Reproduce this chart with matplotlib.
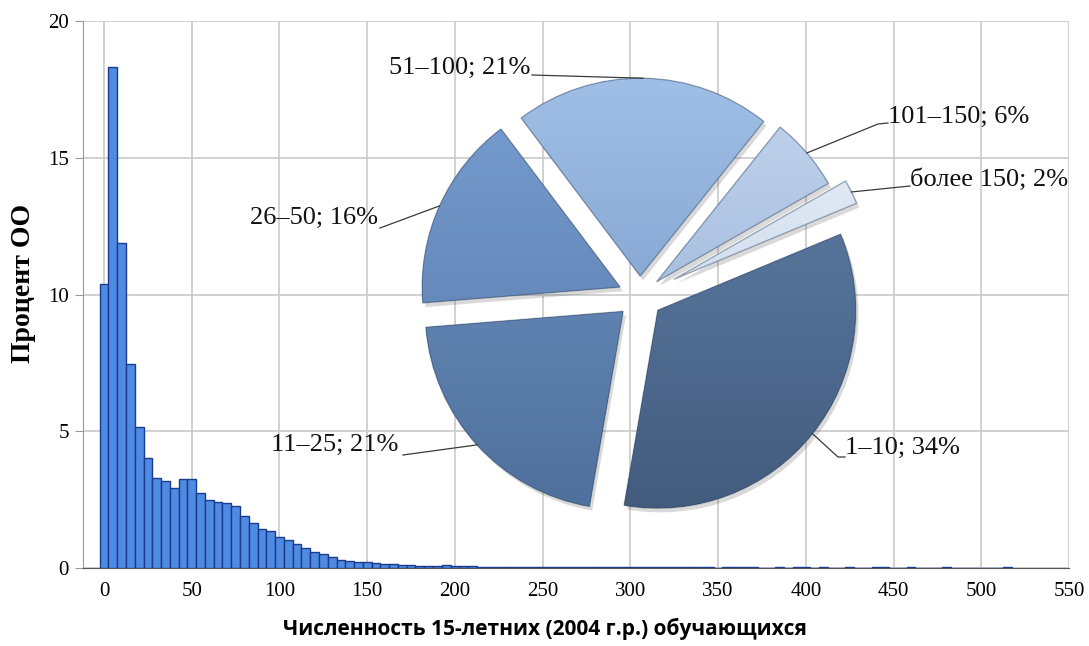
import numpy as np
import matplotlib
matplotlib.use('Agg')
import matplotlib.pyplot as plt
import matplotlib.patheffects as pe
from matplotlib.colors import LinearSegmentedColormap

# Гистограмма: доля ОО (%) по численности 15-летних, шаг 5
bin_step = 5
hist_pct = [
    10.4, 18.3, 11.9, 7.45, 5.16, 4.03, 3.30, 3.18, 2.93, 3.27,   # 0-45
    3.26, 2.73, 2.48, 2.42, 2.38, 2.26, 1.90, 1.65, 1.41, 1.35,   # 50-95
    1.14, 1.01, 0.87, 0.73, 0.60, 0.50, 0.41, 0.31, 0.26, 0.23,   # 100-145
    0.22, 0.19, 0.15, 0.13, 0.11, 0.10, 0.09, 0.08, 0.07, 0.10,   # 150-195
    0.07, 0.06, 0.06, 0.05, 0.05, 0.05, 0.04, 0.04, 0.04, 0.05,   # 200-245
    0.04, 0.04, 0.03, 0.04, 0.03, 0.03, 0.03, 0.04, 0.03, 0.03,   # 250-295
    0.03, 0.03, 0.04, 0.03, 0.03, 0.03, 0.03, 0.03, 0.03, 0.03,   # 300-345
    0, 0.03, 0.03, 0.03, 0.03, 0, 0, 0.03, 0, 0.03,               # 350-395
    0.03, 0, 0.03, 0, 0, 0.03, 0, 0, 0.03, 0.03,                  # 400-445
    0, 0, 0.03, 0, 0, 0, 0.03, 0, 0, 0,                           # 450-495
    0, 0, 0, 0.03,                                                # 500-515
]
x_ticks = list(range(0, 551, 50))
y_ticks = [0, 5, 10, 15, 20]

# Круговая диаграмма (по часовой стрелке от 1–10)
pie_labels = ['1–10; 34%', '11–25; 21%', '26–50; 16%', '51–100; 21%',
              '101–150; 6%', 'более 150; 2%']
pie_values = [34, 21, 16, 21, 6, 2]

W, H = 1089, 646
fig = plt.figure(figsize=(W / 100, H / 100), dpi=100)

# --- гистограмма
ax = fig.add_axes([83 / W, 78 / H, (1069 - 83) / W, (568 - 21) / H])
centers = np.arange(len(hist_pct)) * bin_step
ax.bar(centers, hist_pct, width=bin_step, color='#4f8be3',
       edgecolor='#1b3c8c', linewidth=1.0, zorder=3)
ax.set_xlim(-12, 550)
ax.set_ylim(0, 20)
ax.set_xticks(x_ticks)
ax.set_yticks(y_ticks)
ax.grid(True, color='#c9c9c9', linewidth=1.2, zorder=0)
ax.set_axisbelow(True)
for s in ['top', 'right']:
    ax.spines[s].set_visible(False)
ax.spines['left'].set_color('#9a9a9a')
ax.spines['bottom'].set_color('#555555')
ax.tick_params(axis='x', length=0, pad=10)
ax.tick_params(axis='y', length=6, color='#9a9a9a', pad=4)
for lab in ax.get_xticklabels() + ax.get_yticklabels():
    lab.set_fontfamily('Liberation Serif')
    lab.set_fontsize(15)
ax.set_ylabel('Процент ОО', fontfamily='Liberation Serif', fontsize=20,
              fontweight='bold')
ax.yaxis.set_label_coords(-0.048, 0.52)
ax.set_xlabel('Численность 15-летних (2004 г.р.) обучающихся',
              fontfamily=['Open Sans', 'DejaVu Sans'], fontsize=15,
              fontweight='bold')
ax.xaxis.set_label_coords(0.469, -0.092)

# --- круговая диаграмма поверх (1 ед. = 198 px, центр в (640, 296))
R = 198
cx, cy = 640, H - 296
axp = fig.add_axes([0, 0, 1, 1])
axp.patch.set_alpha(0)
explode = [0.115, 0.115, 0.11, 0.1, 0.11, 0.19]
grads = [('#5f7fa8', '#435c7e'), ('#7094c4', '#4f709c'),
         ('#789dd0', '#5579a9'), ('#a0bfe6', '#7295c4'),
         ('#c3d5ee', '#90abd2'), ('#f0f5fb', '#b3c8e4')]
wedges, _ = axp.pie(pie_values, startangle=22.6, counterclock=False,
                    explode=explode, radius=1,
                    colors=[g[1] for g in grads],
                    wedgeprops=dict(linewidth=0))
for w, (c1, c2) in zip(wedges, grads):
    w.set_path_effects([pe.SimplePatchShadow(offset=(2, -3), shadow_rgbFace='#555555', alpha=0.22),
                        pe.Normal()])
    wx, wy = w.center
    cmap = LinearSegmentedColormap.from_list('g', [c2, c1])
    im = axp.imshow(np.linspace(0, 1, 256).reshape(-1, 1), cmap=cmap,
                    origin='lower', aspect='auto', zorder=3,
                    extent=(wx - 1, wx + 1, wy - 1, wy + 1))
    im.set_clip_path(w)
    edge = matplotlib.patches.Wedge(w.center, w.r, w.theta1, w.theta2,
                                    fill=False, edgecolor='#2e415c', alpha=0.4,
                                    linewidth=1.0, zorder=4)
    axp.add_patch(edge)

axp.set_xlim(-cx / R, (W - cx) / R)
axp.set_ylim(-cy / R, (H - cy) / R)
axp.set_aspect('auto')
axp.axis('off')

# подписи и выноски: (позиция текста, выравнивание, точки линии к тексту)
label_pos = [((845, 448), 'left', [(838, 457), (845, 457)]),
             ((398, 445), 'right', [(403, 455)]),
             ((378, 218), 'right', [(380, 228)]),
             ((530, 68), 'right', [(532, 75)]),
             ((888, 117), 'left', [(878, 124), (888, 123)]),
             ((910, 180), 'left', [(910, 186)])]


def to_data(p):
    return ((p[0] - 640) / R, (296 - p[1]) / R)


for w, lab, (tp, ha, pts) in zip(wedges, pie_labels, label_pos):
    mid = np.deg2rad((w.theta1 + w.theta2) / 2)
    ax_pt = (w.center[0] + w.r * np.cos(mid), w.center[1] + w.r * np.sin(mid))
    xs, ys = zip(*([ax_pt] + [to_data(p) for p in pts]))
    axp.plot(xs, ys, color='#3a3a3a', linewidth=0.9, zorder=5, clip_on=False)
    tx, ty = to_data(tp)
    axp.text(tx, ty, lab, ha=ha, va='center', fontfamily='Liberation Serif',
             fontsize=19, color='#111111', zorder=6)

fig.savefig('out.png', dpi=100)
